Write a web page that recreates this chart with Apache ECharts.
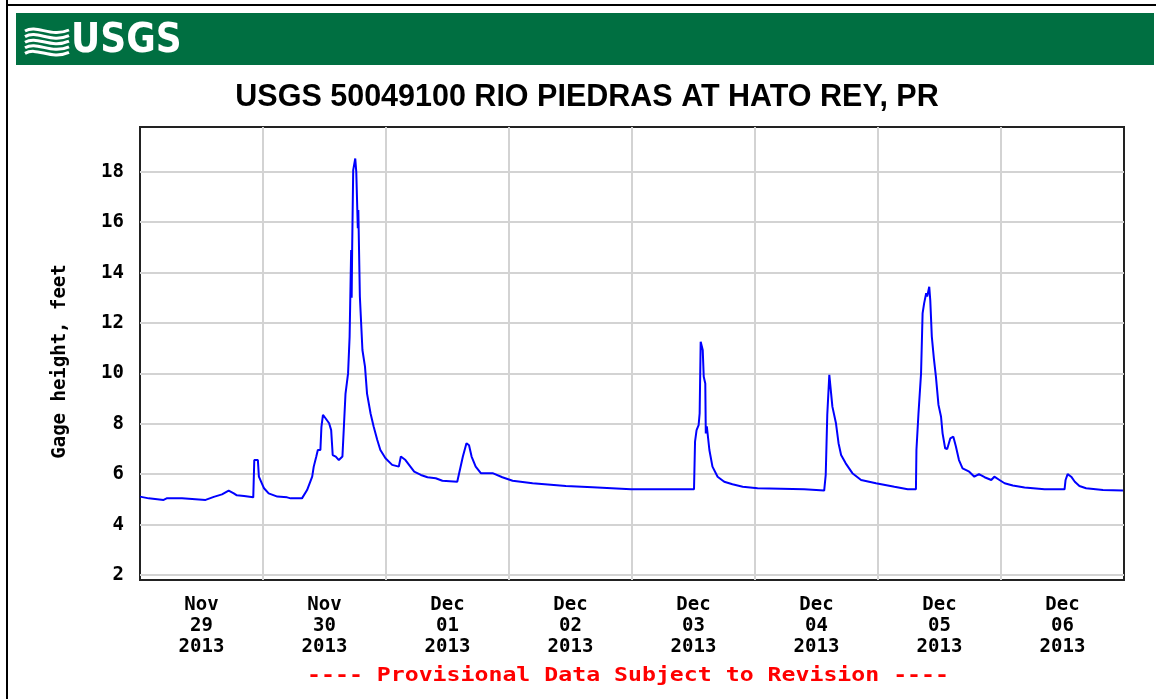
<!DOCTYPE html>
<html>
<head>
<meta charset="utf-8">
<title>USGS 50049100 RIO PIEDRAS AT HATO REY, PR</title>
<script src="https://cdn.jsdelivr.net/npm/echarts@6/dist/echarts.min.js"></script>
<style>
  html, body { margin: 0; padding: 0; background: #fff; }
  #gage { width: 1156px; height: 699px; }
</style>
</head>
<body>
<div id="gage"></div>
<script>
// hours since 2013-11-29 00:00 and gage height (feet)
var hours = [
  0, 1.7, 4.6, 5.2, 8.2, 8.5, 12.8, 14.4, 16.0, 17.3, 18.3, 18.9, 20.3, 20.6, 22.1, 22.3, 23.0, 23.2, 24.2, 25.1,
  26.8, 28.7, 29.4, 31.6, 32.6, 33.6, 33.9, 34.4, 34.7, 35.2, 35.4, 35.7, 36.2, 36.9, 37.3, 37.6, 38.2, 38.8, 39.5, 39.8,
  40.1, 40.6, 40.9, 41.2, 41.3, 41.4, 41.6, 42.0, 42.2, 42.5, 42.6, 42.9, 43.4, 43.9, 44.3, 45.0, 45.6, 46.3, 46.9, 47.9,
  49.2, 50.5, 50.9, 51.8, 52.5, 53.5, 54.8, 56.1, 57.7, 59.0, 61.9, 62.2, 63.0, 63.7, 64.2, 64.7, 65.5, 66.5, 67.5, 68.8,
  70.7, 72.7, 76.6, 83.1, 88.3, 95.8, 108.1, 108.3, 108.6, 109.0, 109.2, 109.4, 109.8, 110.0, 110.3, 110.4, 110.6, 111.1, 111.7, 112.7,
  114.0, 115.6, 117.6, 120.5, 129.6, 129.9, 133.5, 133.8, 134.1, 134.5, 134.8, 135.1, 135.8, 136.3, 136.8, 137.7, 139.0, 140.7, 143.6, 147.2,
  149.8, 151.4, 151.5, 151.9, 152.4, 152.7, 153.0, 153.4, 153.6, 154.0, 154.2, 154.5, 154.9, 155.3, 155.8, 156.3, 156.6, 157.1, 157.5, 158.1,
  158.7, 159.2, 159.8, 160.5, 161.8, 162.8, 163.7, 164.8, 166.1, 166.7, 167.7, 168.7, 170.3, 172.6, 176.5, 180.4, 180.6, 181.0, 181.7, 182.4,
  183.3, 184.6, 187.9, 191.8
];
var gage = [
  5.11, 5.04, 4.98, 5.04, 5.04, 4.98, 4.98, 5.10, 5.20, 5.35, 5.24, 5.16, 5.13, 5.08, 5.08, 6.56, 6.56, 5.90, 5.44, 5.24,
  5.11, 5.08, 5.04, 5.04, 5.37, 5.90, 6.30, 6.70, 6.96, 6.96, 7.88, 8.35, 8.22, 8.02, 7.75, 6.76, 6.70, 6.56, 6.70, 7.95,
  9.20, 10.0, 11.46, 14.9, 13.0, 15.0, 18.07, 18.53, 18.0, 15.76, 16.48, 13.05, 10.93, 10.27, 9.20, 8.40, 7.88, 7.36, 6.96, 6.63,
  6.37, 6.30, 6.70, 6.56, 6.37, 6.10, 5.97, 5.88, 5.84, 5.74, 5.70, 5.74, 6.70, 7.23, 7.15, 6.70, 6.30, 6.04, 6.04, 6.04,
  5.88, 5.74, 5.64, 5.53, 5.48, 5.40, 5.40, 7.29, 7.75, 7.95, 8.42, 11.26, 10.93, 9.87, 9.60, 7.62, 7.90, 6.96, 6.30, 5.90,
  5.70, 5.60, 5.50, 5.44, 5.40, 5.35, 5.35, 5.97, 8.35, 9.94, 9.87, 8.68, 8.02, 7.23, 6.76, 6.43, 6.04, 5.77, 5.64, 5.50,
  5.40, 5.40, 6.96, 8.42, 10.0, 12.38, 12.78, 13.18, 13.05, 13.44, 12.9, 11.46, 10.6, 9.87, 8.75, 8.28, 7.62, 7.03, 7.00, 7.42,
  7.49, 7.10, 6.56, 6.23, 6.10, 5.90, 6.00, 5.88, 5.77, 5.90, 5.77, 5.64, 5.55, 5.47, 5.40, 5.40, 5.77, 6.00, 5.90, 5.70,
  5.53, 5.44, 5.37, 5.35
];

// x labels sit at noon of each day
var dayLabels = [
  'Nov\n29\n2013', 'Nov\n30\n2013', 'Dec\n01\n2013', 'Dec\n02\n2013',
  'Dec\n03\n2013', 'Dec\n04\n2013', 'Dec\n05\n2013', 'Dec\n06\n2013'
];
var labelHours = [12, 36, 60, 84, 108, 132, 156, 180];
var yTicks = [2, 4, 6, 8, 10, 12, 14, 16, 18];

var mono = '"DejaVu Sans Mono", "Liberation Mono", monospace';

var chart = echarts.init(document.getElementById('gage'), null, { renderer: 'canvas' });

// small wave marks for the logo
var waves = [];
for (var i = 0; i < 5; i++) {
  var y0 = 31 + i * 5.6;
  waves.push({
    type: 'bezierCurve',
    shape: { x1: 25, y1: y0, cpx1: 37, cpy1: y0 - 7, cpx2: 51, cpy2: y0 + 7, x2: 69, y2: y0 - 1 },
    style: { stroke: '#fff', lineWidth: 3, fill: null },
    silent: true
  });
}

chart.setOption({
  animation: false,
  backgroundColor: '#fff',
  title: {
    text: 'USGS 50049100 RIO PIEDRAS AT HATO REY, PR',
    left: 582,
    top: 77,
    textAlign: 'center',
    textStyle: {
      fontFamily: '"Liberation Sans", Arial, sans-serif',
      fontWeight: 'bold',
      fontSize: 30.5,
      color: '#000'
    }
  },
  graphic: [
    // outer frame
    { type: 'line', shape: { x1: 7, y1: 0, x2: 7, y2: 699 }, style: { stroke: '#000', lineWidth: 2 }, silent: true },
    { type: 'line', shape: { x1: 6, y1: 5, x2: 1156, y2: 5 }, style: { stroke: '#000', lineWidth: 2 }, silent: true },
    // green banner
    { type: 'rect', shape: { x: 16, y: 13, width: 1138, height: 52 }, style: { fill: '#006f41' }, silent: true },
    { type: 'group', children: waves, silent: true },
    {
      type: 'text', x: 71, y: 62, silent: true,
      style: {
        text: 'USGS', fill: '#fff',
        font: 'bold 40px "DejaVu Sans Condensed", "Liberation Sans Narrow", sans-serif',
        textVerticalAlign: 'bottom'
      }
    },
    // provisional note
    {
      type: 'text', x: 628, y: 676, scaleX: 1.22, silent: true,
      style: {
        text: '---- Provisional Data Subject to Revision ----',
        fill: '#ff0000',
        font: 'bold 19px ' + mono,
        textAlign: 'center',
        textVerticalAlign: 'middle'
      }
    }
  ],
  grid: {
    left: 140,
    top: 127,
    right: 32,
    bottom: 119,
    show: true,
    borderColor: '#222',
    borderWidth: 2,
    backgroundColor: '#fff',
    outerBoundsMode: 'none'
  },
  xAxis: {
    type: 'value',
    min: 0,
    max: 192,
    interval: 24,
    axisLine: { show: false },
    axisTick: { show: false },
    splitLine: {
      show: true,
      showMinLine: false,
      showMaxLine: false,
      lineStyle: { color: '#d3d3d3', width: 2 }
    },
    axisLabel: {
      customValues: labelHours,
      formatter: function (v) {
        return dayLabels[labelHours.indexOf(v)] || '';
      },
      margin: 15,
      fontFamily: mono,
      fontWeight: 'bold',
      fontSize: 19,
      lineHeight: 21,
      color: '#000',
      align: 'center'
    }
  },
  yAxis: {
    type: 'value',
    min: 1.8,
    max: 19.78,
    name: 'Gage height, feet',
    nameLocation: 'middle',
    nameRotate: 90,
    nameGap: 70,
    nameTextStyle: {
      fontFamily: mono,
      fontWeight: 'bold',
      fontSize: 19,
      color: '#000',
      padding: [0, 16, 0, 0]
    },
    axisLine: { show: false },
    axisTick: { show: false, customValues: yTicks },
    splitLine: { show: true, lineStyle: { color: '#d3d3d3', width: 2 } },
    axisLabel: {
      customValues: yTicks,
      margin: 16,
      fontFamily: mono,
      fontWeight: 'bold',
      fontSize: 19,
      color: '#000'
    }
  },
  series: [
    {
      name: 'Gage height',
      type: 'line',
      showSymbol: false,
      data: hours.map(function (h, i) { return [h, gage[i]]; }),
      lineStyle: { color: '#0000ff', width: 2 },
      itemStyle: { color: '#0000ff' }
    }
  ]
});
</script>
</body>
</html>
